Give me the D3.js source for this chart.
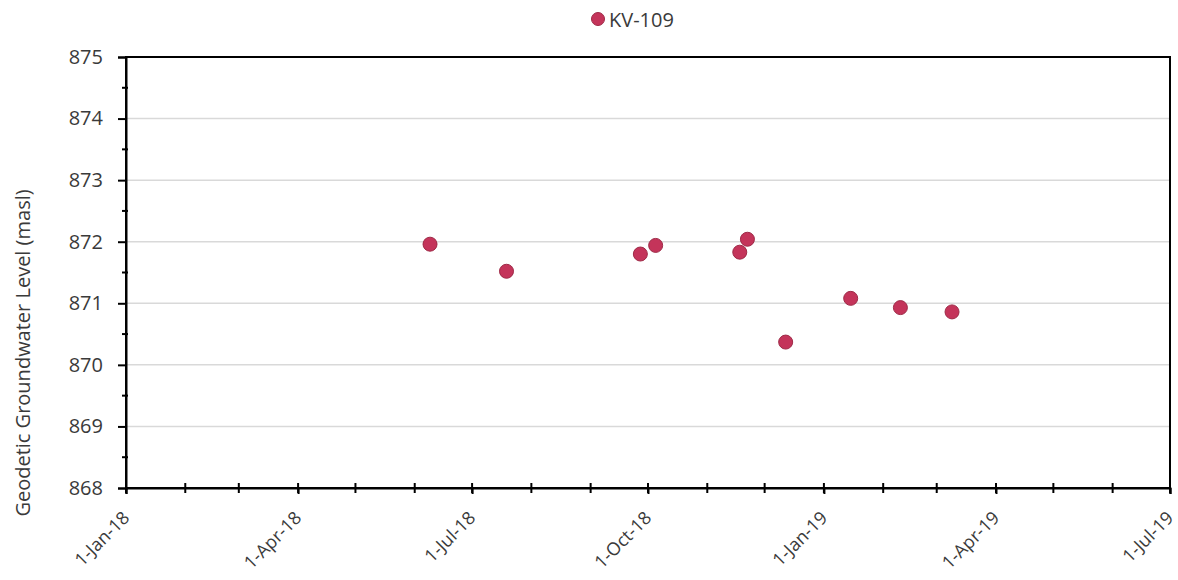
<!DOCTYPE html>
<html><head><meta charset="utf-8">
<script src="https://cdn.jsdelivr.net/npm/d3@7"></script>
<style>body{margin:0;background:#fff;} text{font-family:"Open Sans","Noto Sans",sans-serif;}</style>
</head><body>
<svg id="c" width="1178" height="580"></svg>
<script>
const seriesName = "KV-109";
const dates = ["2018-06-09","2018-07-19","2018-09-27","2018-10-05","2018-11-18","2018-11-22","2018-12-12","2019-01-15","2019-02-10","2019-03-09"];
const levels = [871.96,871.52,871.80,871.94,871.83,872.04,870.37,871.08,870.93,870.86];
const yTicks = [868,869,870,871,872,873,874,875];
const xTickDates = ["2018-01-01","2018-04-01","2018-07-01","2018-10-01","2019-01-01","2019-04-01","2019-07-01"];
const xTickLabels = ["1-Jan-18","1-Apr-18","1-Jul-18","1-Oct-18","1-Jan-19","1-Apr-19","1-Jul-19"];
const yLabel = "Geodetic Groundwater Level (masl)";

const parse = d3.utcParse("%Y-%m-%d");
const svg = d3.select("#c");
const m = {l:126, r:1170, t:57, b:488};
const x = d3.scaleUtc().domain([parse("2018-01-01"), parse("2019-07-01")]).range([m.l, m.r]);
const y = d3.scaleLinear().domain([868, 875]).range([m.b, m.t]);
const color = "#c4345a";
const fs = 20;
const tc = "#3a3a3a";

// gridlines
svg.append("g").selectAll("line").data(yTicks.slice(1,-1)).join("line")
  .attr("x1", m.l).attr("x2", m.r).attr("y1", d=>y(d)).attr("y2", d=>y(d))
  .attr("stroke", "#d9d9d9").attr("stroke-width", 1.5);

// frame
svg.append("rect").attr("x", m.l).attr("y", m.t).attr("width", m.r-m.l).attr("height", m.b-m.t)
  .attr("fill","none").attr("stroke","#000").attr("stroke-width",2);

// y axis
const yAxis = d3.axisLeft(y).tickValues(yTicks).tickSize(8).tickPadding(15).tickFormat(d3.format("d"));
const gy = svg.append("g").attr("transform",`translate(${m.l},0)`).call(yAxis);
gy.select(".domain").attr("stroke","#000").attr("stroke-width",2);
gy.selectAll(".tick line").attr("stroke","#000").attr("stroke-width",2);
gy.selectAll(".tick text").attr("font-size",fs).attr("fill",tc).attr("font-family","'Open Sans',sans-serif");
// y minor ticks
svg.append("g").selectAll("line").data(d3.range(868.5, 875, 1)).join("line")
  .attr("x1", m.l-4).attr("x2", m.l+2).attr("y1", d=>y(d)).attr("y2", d=>y(d))
  .attr("stroke","#000").attr("stroke-width",2);

// x axis
const months = d3.utcMonth.range(parse("2018-01-01"), d3.utcDay.offset(parse("2019-07-01"),1));
svg.append("g").selectAll("line").data(months).join("line")
  .attr("x1", d=>x(d)).attr("x2", d=>x(d)).attr("y1", m.b-5).attr("y2", m.b+5)
  .attr("stroke","#000").attr("stroke-width",2);
const xAxis = d3.axisBottom(x).tickValues(xTickDates.map(parse)).tickSize(6)
  .tickFormat((d,i)=>xTickLabels[i]);
const gx = svg.append("g").attr("transform",`translate(0,${m.b})`).call(xAxis);
gx.select(".domain").attr("stroke","#000").attr("stroke-width",2);
gx.selectAll(".tick line").attr("stroke","#000").attr("stroke-width",2);
gx.selectAll(".tick text").attr("font-size",18).attr("fill",tc)
  .attr("font-family","'Open Sans',sans-serif")
  .attr("text-anchor","end").attr("dy",null).attr("y",0)
  .attr("transform","translate(4,31) rotate(-45)");

// points
svg.append("g").selectAll("circle").data(dates.map((d,i)=>({d:parse(d), v:levels[i]}))).join("circle")
  .attr("cx", d=>x(d.d)).attr("cy", d=>y(d.v)).attr("r", 7)
  .attr("fill", color).attr("stroke","#9e2a47").attr("stroke-width",1);

// y label
svg.append("text").attr("transform",`translate(30,353) rotate(-90)`)
  .attr("text-anchor","middle").attr("font-size",fs).attr("fill",tc).text(yLabel);

// legend
const lg = svg.append("g").attr("transform","translate(598,19)");
lg.append("circle").attr("r",6.5).attr("fill",color).attr("stroke","#9e2a47");
lg.append("text").attr("x",11).attr("y",8).attr("font-size",fs).attr("fill",tc).text(seriesName);
</script>
</body></html>
